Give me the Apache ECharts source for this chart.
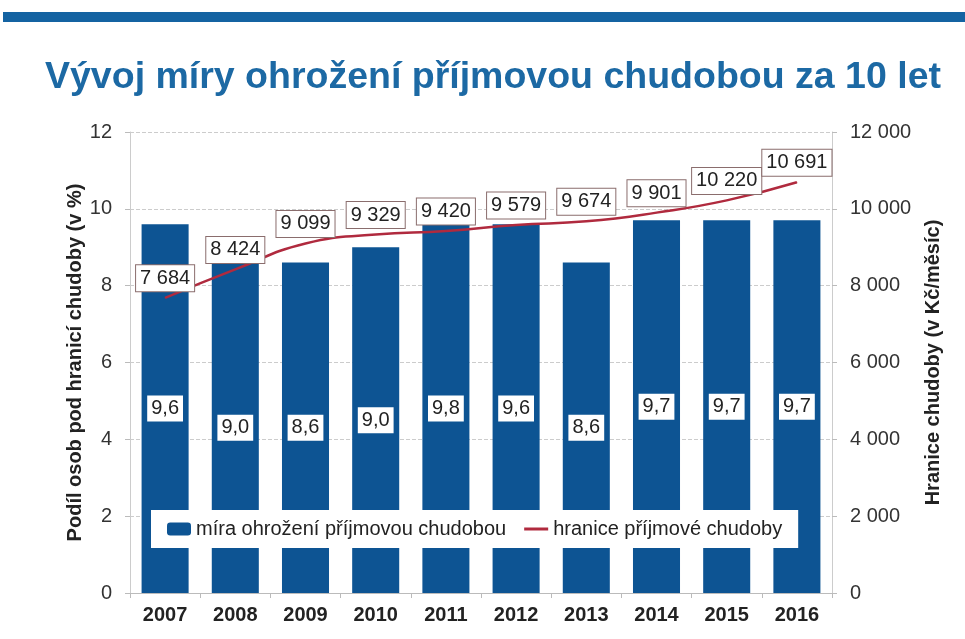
<!DOCTYPE html>
<html>
<head>
<meta charset="utf-8">
<script src="https://cdn.jsdelivr.net/npm/echarts@6/dist/echarts.min.js"></script>
<style>
  html, body { margin: 0; padding: 0; background: #fff; }
  #chart { width: 965px; height: 639px; }
</style>
</head>
<body>
<div id="chart"></div>
<script>
const years = ['2007', '2008', '2009', '2010', '2011', '2012', '2013', '2014', '2015', '2016']
// bar heights as drawn in the picture
const rateBars = [9.6, 8.6, 8.6, 9.0, 9.6, 9.6, 8.6, 9.7, 9.7, 9.7]
// printed labels on the bars
const rateLabels = ['9,6', '9,0', '8,6', '9,0', '9,8', '9,6', '8,6', '9,7', '9,7', '9,7']
const povertyLine = [7684, 8424, 9099, 9329, 9420, 9579, 9674, 9901, 10220, 10691]

const font = 'Liberation Sans, Arial, sans-serif'
const fmtSpace = (v) => String(v).replace(/\B(?=(\d{3})+(?!\d))/g, ' ')

const chart = echarts.init(document.getElementById('chart'))
chart.setOption({
  animation: false,
  textStyle: { fontFamily: font },
  graphic: [
    {
      type: 'rect',
      left: 3,
      top: 12,
      shape: { width: 962, height: 10 },
      style: { fill: '#1463a2' },
    },
  ],
  title: {
    text: 'Vývoj míry ohrožení příjmovou chudobou za 10 let',
    left: 40,
    top: 54,
    textStyle: { fontSize: 37.5, fontWeight: 'bold', color: '#1c69a4', fontFamily: font },
  },
  legend: {
    left: 151,
    top: 510,
    padding: [9, 16],
    itemGap: 18,
    itemWidth: 24,
    itemHeight: 13,
    backgroundColor: '#fff',
    textStyle: { fontSize: 20, color: '#222', fontFamily: font },
    data: [
      { name: 'míra ohrožení příjmovou chudobou' },
      { name: 'hranice příjmové chudoby', icon: 'path://M0,0 L24,0 L24,3 L0,3 Z' },
    ],
  },
  grid: { left: 130, right: 133, top: 132, bottom: 46, outerBoundsMode: 'none' },
  xAxis: {
    type: 'category',
    data: years,
    axisLine: { lineStyle: { color: '#bbb' } },
    axisTick: { show: true, length: 5, lineStyle: { color: '#bbb' } },
    axisLabel: { fontSize: 20, fontWeight: 'bold', color: '#222', margin: 12, fontFamily: font },
  },
  yAxis: [
    {
      type: 'value',
      min: 0,
      max: 12,
      interval: 2,
      name: 'Podíl osob pod hranicí chudoby (v %)',
      nameLocation: 'middle',
      nameGap: 45,
      nameMoveOverlap: false,
      nameTextStyle: { fontSize: 20, fontWeight: 'bold', color: '#222', fontFamily: font },
      axisLine: { show: true, lineStyle: { color: '#ccc' } },
      axisTick: { show: true, length: 5, lineStyle: { color: '#bbb' } },
      axisLabel: { fontSize: 20, color: '#333', margin: 18, fontFamily: font },
      splitLine: { lineStyle: { color: '#ccc', type: 'dashed' } },
    },
    {
      type: 'value',
      min: 0,
      max: 12000,
      interval: 2000,
      name: 'Hranice chudoby (v Kč/měsíc)',
      nameLocation: 'middle',
      nameGap: 91,
      nameMoveOverlap: false,
      nameRotate: 90,
      nameTextStyle: { fontSize: 20, fontWeight: 'bold', color: '#222', fontFamily: font },
      axisLine: { show: true, lineStyle: { color: '#ccc' } },
      axisTick: { show: true, length: 5, lineStyle: { color: '#bbb' } },
      axisLabel: { fontSize: 20, color: '#333', margin: 18, formatter: fmtSpace, fontFamily: font },
      splitLine: { show: false },
    },
  ],
  series: [
    {
      name: 'míra ohrožení příjmovou chudobou',
      type: 'bar',
      yAxisIndex: 0,
      data: rateBars,
      barWidth: '67%',
      itemStyle: { color: '#0d5493' },
      label: {
        show: true,
        position: 'inside',
        formatter: (p) => rateLabels[p.dataIndex],
        backgroundColor: '#fff',
        padding: [3, 4],
        fontSize: 20,
        color: '#222',
        fontFamily: font,
      },
    },
    {
      name: 'hranice příjmové chudoby',
      type: 'line',
      yAxisIndex: 1,
      data: povertyLine,
      smooth: true,
      symbol: 'circle',
      symbolSize: 1,
      showSymbol: true,
      z: 5,
      lineStyle: { color: '#b02a3e', width: 2.5 },
      itemStyle: { color: '#b02a3e' },
      label: {
        show: true,
        position: 'top',
        distance: 6,
        formatter: (p) => fmtSpace(p.value),
        backgroundColor: '#fff',
        borderColor: '#8a6d6d',
        borderWidth: 1,
        padding: [3, 4],
        fontSize: 20,
        color: '#222',
        fontFamily: font,
      },
    },
  ],
})
</script>
</body>
</html>
